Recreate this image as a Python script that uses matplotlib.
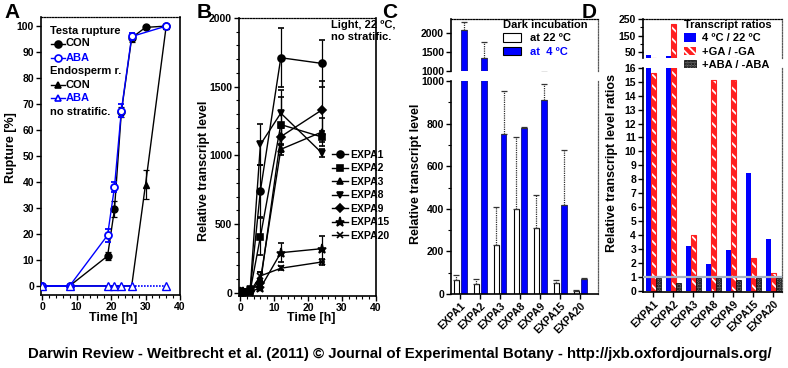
import numpy as np
import matplotlib
matplotlib.use('Agg')
import matplotlib.pyplot as plt
from matplotlib.lines import Line2D
from matplotlib.patches import Patch
from matplotlib.ticker import MultipleLocator

plt.rcParams['font.family'] = ['Liberation Sans', 'DejaVu Sans']
plt.rcParams['font.weight'] = 'bold'
plt.rcParams['font.size'] = 7.5
plt.rcParams['axes.labelweight'] = 'bold'
plt.rcParams['hatch.linewidth'] = 1.3

BLUE = '#0000ff'
RED = '#ff2020'

# ---- panel A: rupture kinetics
t_testa_con = [0, 8, 19, 21, 23, 26, 30, 36]
testa_con = [0, 0, 11.5, 29.5, 67, 95.5, 99.5, 100]
testa_con_err = [0, 0, 1.5, 3, 2, 1.5, 0.5, 0]
t_testa_aba = [0, 8, 19, 21, 23, 26, 36]
testa_aba = [0, 0, 19.5, 38, 67.5, 96, 100]
testa_aba_err = [0, 0, 2.5, 2, 2.5, 1.5, 0]
t_endo_con = [0, 8, 19, 21, 23, 26, 30, 36]
endo_con = [0, 0, 0, 0, 0, 0, 39, 100]
endo_con_err = [0, 0, 0, 0, 0, 0, 5.5, 0]
t_endo_aba = [0, 8, 19, 21, 23, 26, 36]
endo_aba = [0, 0, 0, 0, 0, 0, 0]

# ---- panel B: time course of transcripts
times = [0, 1, 3, 6, 12, 24]
expa_b = {
    'EXPA1': ([10, 8, 20, 744, 1711, 1670], [2, 2, 5, 190, 215, 170], 'o', 5),
    'EXPA2': ([10, 8, 15, 410, 1225, 1135], [2, 2, 4, 135, 200, 40], 's', 4.5),
    'EXPA3': ([10, 8, 12, 95, 1045, 1170], [2, 2, 3, 60, 40, 100], '^', 5),
    'EXPA8': ([12, 10, 30, 1080, 1308, 1020], [2, 2, 5, 150, 165, 30], 'v', 5),
    'EXPA9': ([10, 8, 15, 70, 1137, 1330], [2, 2, 3, 20, 60, 210], 'D', 3.8),
    'EXPA15': ([10, 8, 10, 36, 293, 322], [2, 2, 2, 10, 70, 95], '*', 6.5),
    'EXPA20': ([10, 8, 12, 124, 180, 225], [2, 2, 3, 30, 15, 25], 'x', 5),
}

# ---- panel C: dark incubation
genes = ['EXPA1', 'EXPA2', 'EXPA3', 'EXPA8', 'EXPA9', 'EXPA15', 'EXPA20']
c22 = [65, 48, 230, 400, 310, 50, 15]
c22_err = [23, 22, 178, 335, 155, 17, 3]
c4 = [2100, 1350, 750, 780, 910, 420, 70]
c4_err = [190, 425, 205, 5, 75, 255, 5]

# ---- panel D: ratios
d_temp = [32, 28, 3.25, 1.95, 2.95, 8.45, 3.7]
d_ga = [15.6, 220, 4.0, 15.1, 15.15, 2.4, 1.3]
d_aba = [0.92, 0.55, 0.95, 0.95, 0.8, 0.95, 0.95]

W, H = 788, 368
fig = plt.figure(figsize=(W / 100, H / 100), dpi=100)


def frect(l, t, r, b):
    return [l / W, 1 - b / H, (r - l) / W, (b - t) / H]


def fxy(px, py):
    return px / W, 1 - py / H


def style(ax, right_dotted=False):
    for s in ['left', 'bottom']:
        ax.spines[s].set_linewidth(1.2)
    ax.spines['top'].set_linestyle((0, (1, 1.2)))
    ax.spines['top'].set_linewidth(0.9)
    if right_dotted:
        ax.spines['right'].set_linestyle((0, (1, 1.2)))
        ax.spines['right'].set_linewidth(0.9)
        ax.spines['right'].set_color('0.35')
    else:
        ax.spines['right'].set_linewidth(1.2)
    ax.tick_params(direction='out', length=3.5, width=1, labelsize=7.5, pad=1.5)
    ax.tick_params(which='minor', direction='out', length=2, width=0.8)


# ================= A
axa = fig.add_axes(frect(41, 17, 180, 295))
style(axa)
kw = dict(lw=1, ms=5, capsize=2.5, elinewidth=0.9, capthick=0.9)
axa.errorbar(t_testa_con, testa_con, yerr=testa_con_err, color='k', marker='o', **kw)
axa.errorbar(t_endo_con, endo_con, yerr=endo_con_err, color='k', marker='^', **kw)
axa.errorbar(t_testa_aba, testa_aba, yerr=testa_aba_err, color=BLUE, marker='o',
             mfc='white', mec=BLUE, mew=1.3, zorder=4, **kw)
# endosperm ABA: solid up to 26 h, dotted afterwards
axa.plot(t_endo_aba[:6], endo_aba[:6], color=BLUE, lw=1.2, zorder=5)
axa.plot(t_endo_aba[5:], endo_aba[5:], color=BLUE, lw=1.2, ls=(0, (1, 0.8)), zorder=5)
axa.plot(t_endo_aba, endo_aba, color=BLUE, marker='^', mfc='white', mec=BLUE,
         mew=1, ls='none', ms=5.5, zorder=6)
axa.set_xlim(-0.3, 40)
axa.set_ylim(-3.5, 103.5)
axa.set_xticks([0, 10, 20, 30, 40])
axa.set_yticks(range(0, 101, 10))
axa.xaxis.set_minor_locator(MultipleLocator(2))
axa.set_xlabel('Time [h]', fontsize=9)
axa.set_ylabel('Rupture [%]', fontsize=9)
axa.xaxis.set_label_coords(0.52, -0.06)
axa.yaxis.set_label_coords(-0.175, 0.53)

# legend of A (headings and entries)
leg_rows = [
    ('Testa rupture', None, None, 'k'),
    ('CON', 'o', 'k', 'k'),
    ('ABA', 'o', 'white', BLUE),
    ('Endosperm r.', None, None, 'k'),
    ('CON', '^', 'k', 'k'),
    ('ABA', '^', 'white', BLUE),
    ('no stratific.', None, None, 'k'),
]
ys = [30.7, 43.5, 58, 71, 84.5, 98.3, 111.7]
for (lab, mk, fc, col), py in zip(leg_rows, ys):
    if mk is None:
        fig.text(*fxy(50, py), lab, fontsize=8, va='center', color=col)
    else:
        x0, y0 = fxy(51, py)
        x1, _ = fxy(65, py)
        fig.add_artist(Line2D([x0, x1], [y0, y0], color=col, lw=1,
                              marker=None, transform=fig.transFigure))
        fig.add_artist(Line2D([(x0 + x1) / 2], [y0], color=col, marker=mk, ms=5,
                              mfc=fc, mec=col, mew=1.2, transform=fig.transFigure))
        fig.text(*fxy(66, py), lab, fontsize=8, va='center', color=col)

# ================= B
axb = fig.add_axes(frect(239, 18, 376, 296))
style(axb)
handles = []
for name, (vals, err, mk, ms) in expa_b.items():
    axb.errorbar(times, vals, yerr=err, color='k', marker=mk, ms=ms, lw=1,
                 mew=1.2, capsize=2.5, elinewidth=0.9, capthick=0.9)
    handles.append(Line2D([], [], color='k', marker=mk, ms=ms, lw=1, mew=1.2))
axb.set_xlim(-0.3, 40)
axb.set_ylim(-22, 2000)
axb.set_xticks([0, 10, 20, 30, 40])
axb.set_yticks([0, 500, 1000, 1500, 2000])
axb.xaxis.set_minor_locator(MultipleLocator(2))
axb.yaxis.set_minor_locator(MultipleLocator(100))
axb.set_xlabel('Time [h]', fontsize=9)
axb.set_ylabel('Relative transcript level', fontsize=9)
axb.xaxis.set_label_coords(0.53, -0.058)
axb.yaxis.set_label_coords(-0.215, 0.45)
axb.legend(handles, list(expa_b.keys()), loc='upper left',
           bbox_to_anchor=fxy(332, 150), bbox_transform=fig.transFigure,
           frameon=False, fontsize=7.5, handlelength=1.5, handletextpad=0.25,
           labelspacing=0.33, borderpad=0, borderaxespad=0)
fig.text(*fxy(331, 20), 'Light, 22 ºC,\nno stratific.', fontsize=8, va='top',
         linespacing=1.25)

# ================= C (broken axis)
x = np.arange(len(genes))
axc1 = fig.add_axes(frect(451, 19, 598, 71))
axc2 = fig.add_axes(frect(451, 81, 598, 294))
for ax in (axc1, axc2):
    style(ax, right_dotted=True)
    ax.bar(x - 0.19, c22, 0.27, color='white', edgecolor='k', lw=0.8)
    ax.bar(x + 0.19, c4, 0.27, color=BLUE, edgecolor='#000060', lw=0.5)
    for xs, v, e in ((x - 0.19, c22, c22_err), (x + 0.19, c4, c4_err)):
        eb = ax.errorbar(xs, v, yerr=[np.zeros(len(v)), e], fmt='none',
                         ecolor='0.2', elinewidth=0.9, capsize=2, capthick=0.9)
        for lc in eb[2]:
            lc.set_linestyle((0, (1, 0.8)))
    ax.set_xlim(-0.45, 6.9)
axc1.set_ylim(1000, 2380)
axc1.set_yticks([1000, 1500, 2000])
axc1.spines['bottom'].set_visible(False)
axc1.set_xticks([])
axc2.set_ylim(0, 1000)
axc2.set_yticks(range(0, 1001, 200))
axc2.yaxis.set_minor_locator(MultipleLocator(100))
axc2.spines['top'].set_visible(False)
axc2.set_xticks(x)
axc2.set_xticklabels(genes, rotation=45, ha='right', va='top',
                     rotation_mode='anchor', fontsize=7.5)
fig.text(*fxy(416, 174), 'Relative transcript level', rotation=90,
         fontsize=9, ha='center', va='center')
legc = axc1.legend([Patch(facecolor='white', edgecolor='k', lw=0.8),
                    Patch(facecolor=BLUE, edgecolor='k', lw=0.8)],
                   ['at 22 ºC', 'at  4 ºC'], title='Dark incubation',
                   loc='upper left', bbox_to_anchor=fxy(503, 20),
                   bbox_transform=fig.transFigure, frameon=False, fontsize=8,
                   title_fontproperties={'weight': 'bold', 'size': 8},
                   handlelength=1.6, handleheight=0.75, handletextpad=0.8,
                   labelspacing=0.3, borderpad=0, borderaxespad=0,
                   alignment='left')
legc.get_texts()[1].set_color(BLUE)

# ================= D (broken axis)
axd1 = fig.add_axes(frect(643, 19, 782, 57.7))
axd2 = fig.add_axes(frect(643, 67.7, 782, 292))
for ax in (axd1, axd2):
    style(ax, right_dotted=True)
    ax.bar(x - 0.23, d_temp, 0.23, color=BLUE, lw=0)
    ax.bar(x + 0.02, d_ga, 0.23, color=RED, edgecolor='white', hatch='\\\\\\', lw=0)
    ax.bar(x + 0.02, d_ga, 0.23, fill=False, edgecolor=RED, lw=0.8)
    ax.bar(x + 0.27, d_aba, 0.23, color='0.45', edgecolor='k', hatch='......', lw=0.5)
    ax.set_xlim(-0.5, 6.45)
axd2.axhline(1, color='#a8b4c4', lw=1.6, zorder=5)
axd1.set_ylim(17.6, 250)
axd1.set_yticks([50, 150, 250])
axd1.yaxis.set_minor_locator(MultipleLocator(50))
axd1.spines['bottom'].set_visible(False)
axd1.set_xticks([])
axd2.set_ylim(-0.07, 16)
axd2.set_yticks(range(0, 17))
axd2.spines['top'].set_visible(False)
axd2.set_xticks(x)
axd2.set_xticklabels(genes, rotation=45, ha='right', va='top',
                     rotation_mode='anchor', fontsize=7.5)
fig.text(*fxy(612, 163), 'Relative transcript level ratios', rotation=90,
         fontsize=9, ha='center', va='center')
legd = axd1.legend([Patch(facecolor=BLUE, lw=0),
                    Patch(facecolor=RED, edgecolor='white', hatch='\\\\\\\\', lw=0),
                    Patch(facecolor='0.45', edgecolor='k', hatch='......', lw=0.5)],
                   ['4 ºC / 22 ºC', '+GA / -GA', '+ABA / -ABA'],
                   title='Transcript ratios', loc='upper left',
                   bbox_to_anchor=fxy(684, 20), bbox_transform=fig.transFigure,
                   frameon=False, fontsize=8,
                   title_fontproperties={'weight': 'bold', 'size': 8},
                   handlelength=1.1, handleheight=0.75, handletextpad=0.5,
                   labelspacing=0.3, borderpad=0, borderaxespad=0,
                   alignment='left')

# panel letters and footer
for lab, px in (('A', 4), ('B', 197), ('C', 382), ('D', 582)):
    fig.text(*fxy(px, 12), lab, fontsize=15, weight='bold', va='center')
fig.text(*fxy(400, 354), 'Darwin Review - Weitbrecht et al. (2011) © Journal of '
         'Experimental Botany - http://jxb.oxfordjournals.org/',
         fontsize=10.8, weight='bold', ha='center', va='center')

fig.savefig('out.png', dpi=100)
